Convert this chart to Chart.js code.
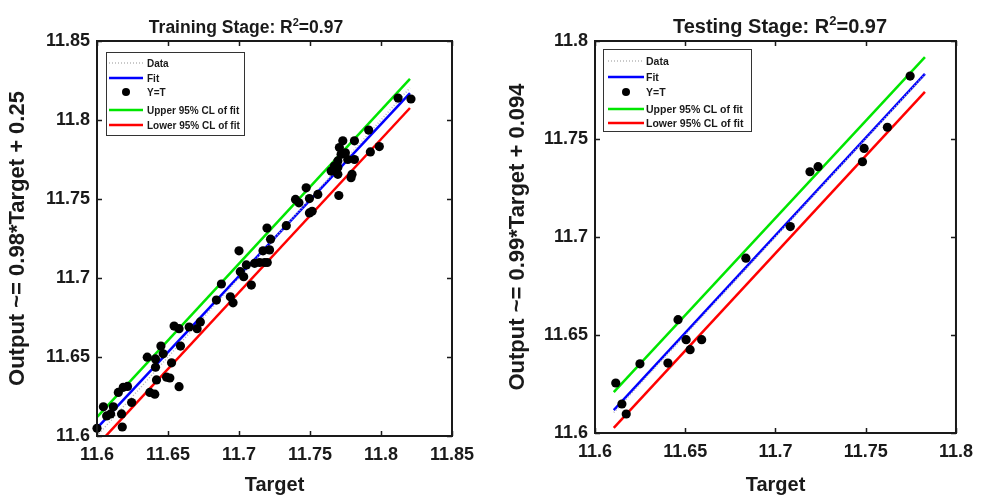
<!DOCTYPE html>
<html>
<head>
<meta charset="utf-8">
<script src="https://cdn.jsdelivr.net/npm/chart.js@4.4.1/dist/chart.umd.min.js"></script>
<style>
  html, body { margin: 0; padding: 0; background: #fff; }
  #wrap { position: relative; width: 981px; height: 498px; }
  canvas { position: absolute; top: 0; }
</style>
</head>
<body>
<div id="wrap">
  <canvas id="trainChart" width="500" height="498" style="left:0"></canvas>
  <canvas id="testChart" width="481" height="498" style="left:500px"></canvas>
</div>
<script>
// ---- training stage data ----
const trainTarget = [11.6000, 11.6045, 11.6068, 11.6096, 11.6115, 11.6150, 11.6173, 11.6178, 11.6185, 11.6215,
  11.6244, 11.6354, 11.6372, 11.6407, 11.6412, 11.6412, 11.6419, 11.6450, 11.6466, 11.6490,
  11.6513, 11.6525, 11.6543, 11.6578, 11.6578, 11.6588, 11.6649, 11.6705, 11.6728, 11.6841,
  11.6876, 11.6939, 11.6958, 11.7000, 11.7009, 11.7033, 11.7052, 11.7087, 11.7110, 11.7145,
  11.7169, 11.7180, 11.7197, 11.7215, 11.7222, 11.7199, 11.7333, 11.7398, 11.7422, 11.7473,
  11.7496, 11.7496, 11.7515, 11.7555, 11.7649, 11.7672, 11.7696, 11.7696, 11.7703, 11.7707,
  11.7719, 11.7731, 11.7749, 11.7766, 11.7789, 11.7796, 11.7813, 11.7813, 11.7913, 11.7925,
  11.7988, 11.7696, 11.8120, 11.8211];
const trainOutput = [11.6049, 11.6185, 11.6127, 11.6140, 11.6185, 11.6276, 11.6140, 11.6057, 11.6308, 11.6314,
  11.6212, 11.6499, 11.6276, 11.6265, 11.6488, 11.6435, 11.6355, 11.6569, 11.6520, 11.6372,
  11.6367, 11.6463, 11.6696, 11.6679, 11.6312, 11.6569, 11.6690, 11.6679, 11.6722, 11.6860,
  11.6962, 11.6881, 11.6843, 11.7172, 11.7040, 11.7008, 11.7083, 11.6955, 11.7093, 11.7098,
  11.7172, 11.7098, 11.7316, 11.7178, 11.7246, 11.7098, 11.7331, 11.7497, 11.7476, 11.7571,
  11.7503, 11.7412, 11.7422, 11.7529, 11.7677, 11.7709, 11.7741, 11.7656, 11.7522, 11.7826,
  11.7783, 11.7868, 11.7792, 11.7750, 11.7635, 11.7656, 11.7750, 11.7868, 11.7936, 11.7798,
  11.7832, 11.7699, 11.8139, 11.8133];
const trainLineX = [11.6, 11.8204];
const trainIdentY = [11.6, 11.8204];
const trainFitY = [11.605, 11.817];
const trainUpperY = [11.612, 11.826];
const trainLowerY = [11.594, 11.8076];
const trainTicks = [11.6, 11.65, 11.7, 11.75, 11.8, 11.85];

// ---- testing stage data ----
const testTarget = [11.6115, 11.6149, 11.6173, 11.6249, 11.6404, 11.6460, 11.6505, 11.6527, 11.6591, 11.6836,
  11.7082, 11.7191, 11.7236, 11.7482, 11.7491, 11.7620, 11.7746];
const testOutput = [11.6255, 11.6148, 11.6097, 11.6353, 11.6357, 11.6578, 11.6476, 11.6425, 11.6476, 11.6892,
  11.7053, 11.7333, 11.7359, 11.7384, 11.7452, 11.7560, 11.7821];
const testLineX = [11.6104, 11.7828];
const testIdentY = [11.6104, 11.7828];
const testFitY = [11.6117, 11.7832];
const testUpperY = [11.6209, 11.7918];
const testLowerY = [11.6026, 11.7740];
const testTicks = [11.6, 11.65, 11.7, 11.75, 11.8];

const FONT = '"Liberation Sans", Arial, sans-serif';
const INK = '#1a1a1a';

function pts(xs, ys) { return xs.map((x, i) => ({ x: x, y: ys[i] })); }

function makeDatasets(lineX, identY, fitY, upperY, lowerY, xs, ys) {
  return [
    { label: 'Data', data: pts(lineX, identY), showLine: true, borderColor: '#b8b8b8', borderWidth: 1.5,
      borderDash: [1, 2], pointRadius: 0, order: 1 },
    { label: 'Fit', data: pts(lineX, fitY), showLine: true, borderColor: '#0000ff', borderWidth: 2.5,
      pointRadius: 0, order: 1 },
    { label: 'Y=T', data: pts(xs, ys), showLine: false, pointRadius: 4.6, pointBackgroundColor: '#000',
      pointBorderColor: '#000', pointBorderWidth: 0, clip: false, order: 0 },
    { label: 'Upper 95% CL of fit', data: pts(lineX, upperY), showLine: true, borderColor: '#00e600', borderWidth: 2.5,
      pointRadius: 0, order: 1 },
    { label: 'Lower 95% CL of fit', data: pts(lineX, lowerY), showLine: true, borderColor: '#ff0000', borderWidth: 2.5,
      pointRadius: 0, order: 1 }
  ];
}

// MATLAB style box, inward ticks, legend inside the axes and title with a superscript
const matlabAxes = {
  id: 'matlabAxes',
  afterDatasetsDraw(chart, args, opts) {
    const ctx = chart.ctx;
    const a = chart.chartArea;
    const xs = chart.scales.x, ys = chart.scales.y;
    ctx.save();
    ctx.strokeStyle = INK;
    ctx.lineWidth = 1.5;
    ctx.beginPath();
    xs.ticks.forEach(t => {
      const px = Math.round(xs.getPixelForValue(t.value)) + 0.5;
      ctx.moveTo(px, a.bottom); ctx.lineTo(px, a.bottom - 5);
      ctx.moveTo(px, a.top); ctx.lineTo(px, a.top + 5);
    });
    ys.ticks.forEach(t => {
      const py = Math.round(ys.getPixelForValue(t.value)) + 0.5;
      ctx.moveTo(a.left, py); ctx.lineTo(a.left + 5, py);
      ctx.moveTo(a.right, py); ctx.lineTo(a.right - 5, py);
    });
    ctx.stroke();
    ctx.lineWidth = 2;
    ctx.strokeRect(a.left, a.top, a.right - a.left, a.bottom - a.top);

    // legend
    const L = opts.legend;
    const bx = a.left + L.dx, by = a.top + L.dy;
    ctx.fillStyle = '#fff';
    ctx.fillRect(bx, by, L.w, L.h);
    ctx.strokeStyle = '#333';
    ctx.lineWidth = 1;
    ctx.strokeRect(bx + 0.5, by + 0.5, L.w, L.h);
    ctx.font = 'bold ' + L.size + 'px ' + FONT;
    ctx.textBaseline = 'middle';
    ctx.textAlign = 'left';
    chart.data.datasets.forEach((ds, i) => {
      const cy = by + L.rows[i];
      if (ds.showLine) {
        ctx.setLineDash(ds.borderDash || []);
        ctx.strokeStyle = ds.borderColor;
        ctx.lineWidth = ds.borderWidth;
        ctx.beginPath();
        ctx.moveTo(bx + L.s0, cy); ctx.lineTo(bx + L.s1, cy);
        ctx.stroke();
        ctx.setLineDash([]);
      } else {
        ctx.fillStyle = ds.pointBackgroundColor;
        ctx.beginPath();
        ctx.arc(bx + (L.s0 + L.s1) / 2, cy, 4, 0, Math.PI * 2);
        ctx.fill();
      }
      ctx.fillStyle = INK;
      ctx.fillText(ds.label, bx + L.tx, cy + 1);
    });

    // title: "... R" + superscript 2 + "=0.97"
    const T = opts.title;
    const big = 'bold ' + T.size + 'px ' + FONT;
    const small = 'bold ' + Math.round(T.size * 0.65) + 'px ' + FONT;
    ctx.font = big;
    const w1 = ctx.measureText(T.parts[0]).width;
    const w3 = ctx.measureText(T.parts[2]).width;
    ctx.font = small;
    const w2 = ctx.measureText(T.parts[1]).width;
    let tx = T.cx - (w1 + w2 + w3) / 2;
    ctx.fillStyle = INK;
    ctx.textBaseline = 'alphabetic';
    ctx.font = big;
    ctx.fillText(T.parts[0], tx, T.base);
    tx += w1;
    ctx.font = small;
    ctx.fillText(T.parts[1], tx, T.base - T.size * 0.42);
    tx += w2;
    ctx.font = big;
    ctx.fillText(T.parts[2], tx, T.base);
    ctx.restore();
  }
};

function makeChart(id, cfg) {
  const tickFont = { family: FONT, size: 18, weight: 'bold' };
  return new Chart(document.getElementById(id), {
    type: 'scatter',
    data: { datasets: cfg.datasets },
    plugins: [matlabAxes],
    options: {
      responsive: false,
      animation: false,
      layout: { padding: { left: 0, right: cfg.padRight, top: 41, bottom: 0 } },
      plugins: {
        legend: { display: false },
        tooltip: { enabled: false },
        matlabAxes: { legend: cfg.legend, title: cfg.title }
      },
      scales: {
        x: {
          type: 'linear', min: cfg.ticks[0], max: cfg.ticks[cfg.ticks.length - 1],
          afterBuildTicks: s => { s.ticks = cfg.ticks.map(v => ({ value: v })); },
          afterFit: s => { s.height = cfg.xHeight; },
          grid: { display: false, drawTicks: false },
          border: { display: false },
          ticks: { font: tickFont, color: INK, padding: 8, maxRotation: 0, autoSkip: false,
                   callback: v => String(+v.toFixed(2)) },
          title: { display: true, text: 'Target', color: INK,
                   font: { family: FONT, size: 20, weight: 'bold' }, padding: { top: 0, bottom: 1 } }
        },
        y: {
          type: 'linear', min: cfg.ticks[0], max: cfg.ticks[cfg.ticks.length - 1],
          afterBuildTicks: s => { s.ticks = cfg.ticks.map(v => ({ value: v })); },
          afterFit: s => { s.width = cfg.yWidth; },
          grid: { display: false, drawTicks: false },
          border: { display: false },
          ticks: { font: tickFont, color: INK, padding: 7, autoSkip: false,
                   callback: v => String(+v.toFixed(2)) },
          title: { display: true, text: cfg.yTitle, color: INK,
                   font: { family: FONT, size: 22, weight: 'bold' }, padding: { top: 5, bottom: 0 } }
        }
      }
    }
  });
}

makeChart('trainChart', {
  datasets: makeDatasets(trainLineX, trainIdentY, trainFitY, trainUpperY, trainLowerY, trainTarget, trainOutput),
  ticks: trainTicks,
  yTitle: 'Output ~= 0.98*Target + 0.25',
  padRight: 48, xHeight: 62, yWidth: 97,
  legend: { dx: 9, dy: 11, w: 138, h: 83, s0: 3, s1: 37, tx: 41, size: 10, rows: [11, 26, 40, 58, 73] },
  title: { parts: ['Training Stage: R', '2', '=0.97'], cx: 246, base: 33, size: 17.5 }
});

makeChart('testChart', {
  datasets: makeDatasets(testLineX, testIdentY, testFitY, testUpperY, testLowerY, testTarget, testOutput),
  ticks: testTicks,
  yTitle: 'Output ~= 0.99*Target + 0.094',
  padRight: 19, xHeight: 65, yWidth: 95,
  legend: { dx: 8, dy: 8, w: 148, h: 82, s0: 5, s1: 41, tx: 43, size: 10.5, rows: [12, 28, 43, 60, 74] },
  title: { parts: ['Testing Stage: R', '2', '=0.97'], cx: 280, base: 33, size: 20 }
});
</script>
</body>
</html>
